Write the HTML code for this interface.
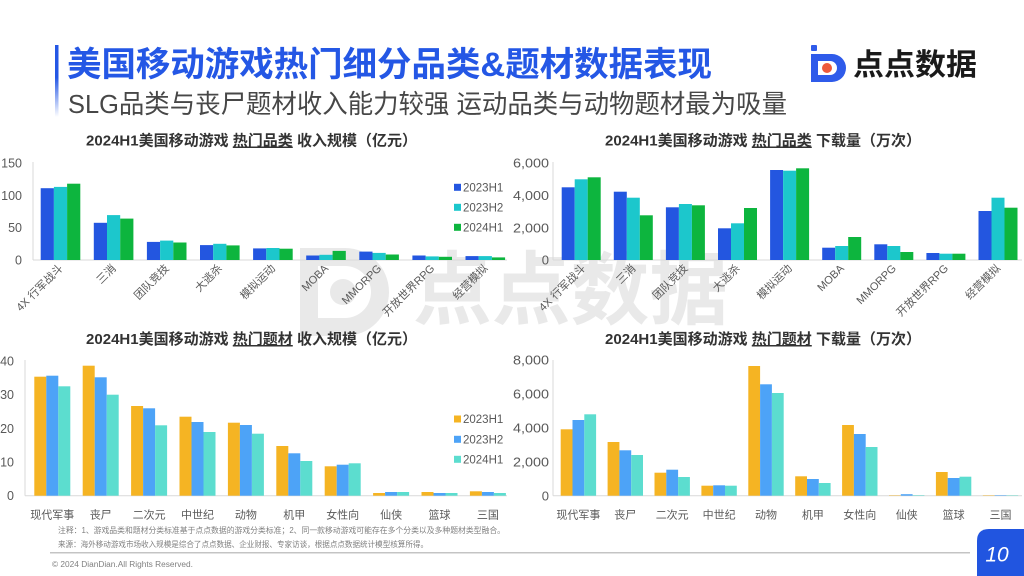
<!DOCTYPE html>
<html><head><meta charset="utf-8">
<style>
html,body{margin:0;padding:0;background:#fff;}
body{width:1024px;height:576px;overflow:hidden;}
svg{display:block;}
text{font-family:"Liberation Sans","Noto Sans CJK SC",sans-serif;}
.tk{font-size:12.5px;fill:#595959;text-anchor:end;}
.tc{font-size:13px;fill:#595959;text-anchor:end;}
.xl{font-size:11px;fill:#595959;}
.xr{font-size:11px;fill:#595959;text-anchor:end;}
.lg{font-size:11.5px;fill:#595959;}
.ti{font-size:15px;font-weight:bold;fill:#333;text-anchor:middle;}
.ax{stroke:#d9d9d9;stroke-width:1;}
.a1{fill:#2356E0}.a2{fill:#1CC7CC}.a3{fill:#0DB53E}
.c1{fill:#F5B423}.c2{fill:#4DA3F7}.c3{fill:#5CDDCF}
.ft{font-size:8px;fill:#808080;}
</style></head>
<body>
<svg width="1024" height="576" viewBox="0 0 1024 576" xmlns="http://www.w3.org/2000/svg">
<defs>
<linearGradient id="vb" x1="0" y1="0" x2="0" y2="1">
<stop offset="0" stop-color="#2457E5"/>
<stop offset="0.45" stop-color="#2457E5"/>
<stop offset="1" stop-color="#2457E5" stop-opacity="0"/>
</linearGradient>
</defs>

<!-- watermark -->
<g fill="#e9e9e9">
<path fill-rule="evenodd" d="M300,248 H345 A44,44 0 0 1 345,336 H300 Z M318,266 H345 A26,26 0 0 1 345,318 H318 Z"/>
<circle cx="343" cy="292" r="13"/>
<text x="413" y="318" font-size="80" font-weight="bold" textLength="315" lengthAdjust="spacingAndGlyphs" fill="#e9e9e9">点点数据</text>
</g>

<!-- header -->
<rect x="55" y="45" width="3.5" height="72" fill="url(#vb)"/>
<text x="67" y="76" font-size="34" font-weight="bold" fill="#2457E5" textLength="645" lengthAdjust="spacingAndGlyphs">美国移动游戏热门细分品类&amp;题材数据表现</text>
<text x="68" y="113" font-size="26" fill="#474747" textLength="719" lengthAdjust="spacingAndGlyphs">SLG品类与丧尸题材收入能力较强 运动品类与动物题材最为吸量</text>

<!-- logo -->
<rect x="811" y="45" width="6" height="6" rx="1" fill="#2F5BEA"/>
<path fill-rule="evenodd" fill="#2F5BEA" d="M811,54 H832 A14,14 0 0 1 832,82 H811 Z M818,61 H830 A7,7 0 0 1 830,75 H818 Z"/>
<circle cx="827" cy="68" r="5" fill="#EE5A3B"/>
<text x="853" y="75" font-size="30" font-weight="bold" fill="#1a1a1a" textLength="124" lengthAdjust="spacingAndGlyphs">点点数据</text>

<!-- titles -->
<text class="ti" x="251.5" y="145.5">2024H1美国移动游戏 <tspan style="text-decoration:underline">热门品类</tspan> 收入规模（亿元）</text>
<text class="ti" x="763" y="145.5">2024H1美国移动游戏 <tspan style="text-decoration:underline">热门品类</tspan> 下载量（万次）</text>
<text class="ti" x="251.5" y="344">2024H1美国移动游戏 <tspan style="text-decoration:underline">热门题材</tspan> 收入规模（亿元）</text>
<text class="ti" x="763" y="344">2024H1美国移动游戏 <tspan style="text-decoration:underline">热门题材</tspan> 下载量（万次）</text>

<!-- Chart A: top-left -->
<line class="ax" x1="33" y1="162" x2="33" y2="260"/>
<line class="ax" x1="33" y1="260" x2="507" y2="260"/>
<text class="tk" x="22" y="167.5">150</text>
<text class="tk" x="22" y="199.8">100</text>
<text class="tk" x="22" y="232.2">50</text>
<text class="tk" x="22" y="264.5">0</text>
<g>
<rect class="a1" x="40.7" y="188.2" width="13.2" height="71.8"/><rect class="a2" x="53.9" y="186.9" width="13.2" height="73.1"/><rect class="a3" x="67.1" y="183.7" width="13.2" height="76.3"/>
<rect class="a1" x="93.8" y="222.8" width="13.2" height="37.2"/><rect class="a2" x="107" y="215.1" width="13.2" height="44.9"/><rect class="a3" x="120.2" y="218.6" width="13.2" height="41.4"/>
<rect class="a1" x="146.9" y="241.9" width="13.2" height="18.1"/><rect class="a2" x="160.1" y="240.6" width="13.2" height="19.4"/><rect class="a3" x="173.3" y="242.5" width="13.2" height="17.5"/>
<rect class="a1" x="200" y="245.1" width="13.2" height="14.9"/><rect class="a2" x="213.2" y="243.8" width="13.2" height="16.2"/><rect class="a3" x="226.4" y="245.4" width="13.2" height="14.6"/>
<rect class="a1" x="253.1" y="248.4" width="13.2" height="11.6"/><rect class="a2" x="266.3" y="248" width="13.2" height="12"/><rect class="a3" x="279.5" y="248.7" width="13.2" height="11.3"/>
<rect class="a1" x="306.2" y="255.5" width="13.2" height="4.5"/><rect class="a2" x="319.4" y="254.8" width="13.2" height="5.2"/><rect class="a3" x="332.6" y="250.9" width="13.2" height="9.1"/>
<rect class="a1" x="359.3" y="251.6" width="13.2" height="8.4"/><rect class="a2" x="372.5" y="252.9" width="13.2" height="7.1"/><rect class="a3" x="385.7" y="254.5" width="13.2" height="5.5"/>
<rect class="a1" x="412.4" y="255.5" width="13.2" height="4.5"/><rect class="a2" x="425.6" y="256.4" width="13.2" height="3.6"/><rect class="a3" x="438.8" y="256.8" width="13.2" height="3.2"/>
<rect class="a1" x="465.5" y="256.1" width="13.2" height="3.9"/><rect class="a2" x="478.7" y="256.1" width="13.2" height="3.9"/><rect class="a3" x="491.9" y="257.4" width="13.2" height="2.6"/>
</g>
<text class="xr" x="63.5" y="269" transform="rotate(-45 63.5 269)">4X 行军战斗</text>
<text class="xr" x="116.6" y="269" transform="rotate(-45 116.6 269)">三消</text>
<text class="xr" x="169.7" y="269" transform="rotate(-45 169.7 269)">团队竞技</text>
<text class="xr" x="222.8" y="269" transform="rotate(-45 222.8 269)">大逃杀</text>
<text class="xr" x="275.9" y="269" transform="rotate(-45 275.9 269)">模拟运动</text>
<text class="xr" x="329" y="269" transform="rotate(-45 329 269)">MOBA</text>
<text class="xr" x="382.1" y="269" transform="rotate(-45 382.1 269)">MMORPG</text>
<text class="xr" x="435.2" y="269" transform="rotate(-45 435.2 269)">开放世界RPG</text>
<text class="xr" x="488.3" y="269" transform="rotate(-45 488.3 269)">经营模拟</text>
<rect class="a1" x="454" y="183.8" width="7" height="7"/><text class="lg" x="463" y="191.3">2023H1</text>
<rect class="a2" x="454" y="203.8" width="7" height="7"/><text class="lg" x="463" y="211.3">2023H2</text>
<rect class="a3" x="454" y="223.8" width="7" height="7"/><text class="lg" x="463" y="231.3">2024H1</text>

<!-- Chart B: top-right -->
<line class="ax" x1="553" y1="162" x2="553" y2="260"/>
<line class="ax" x1="553" y1="260" x2="1022" y2="260"/>
<text class="tc" x="549" y="167.6" textLength="36" lengthAdjust="spacingAndGlyphs">6,000</text>
<text class="tc" x="549" y="199.9" textLength="36" lengthAdjust="spacingAndGlyphs">4,000</text>
<text class="tc" x="549" y="232.3" textLength="36" lengthAdjust="spacingAndGlyphs">2,000</text>
<text class="tc" x="549" y="264.6">0</text>
<g>
<rect class="a1" x="561.7" y="187.3" width="13" height="72.7"/><rect class="a2" x="574.7" y="179.3" width="13" height="80.7"/><rect class="a3" x="587.7" y="177.3" width="13" height="82.7"/>
<rect class="a1" x="613.8" y="191.7" width="13" height="68.3"/><rect class="a2" x="626.8" y="197.7" width="13" height="62.3"/><rect class="a3" x="639.8" y="215.3" width="13" height="44.7"/>
<rect class="a1" x="665.9" y="207.3" width="13" height="52.7"/><rect class="a2" x="678.9" y="204" width="13" height="56"/><rect class="a3" x="691.9" y="205.3" width="13" height="54.7"/>
<rect class="a1" x="718" y="228.3" width="13" height="31.7"/><rect class="a2" x="731" y="223.3" width="13" height="36.7"/><rect class="a3" x="744" y="208" width="13" height="52"/>
<rect class="a1" x="770.1" y="170" width="13" height="90"/><rect class="a2" x="783.1" y="170.7" width="13" height="89.3"/><rect class="a3" x="796.1" y="168.3" width="13" height="91.7"/>
<rect class="a1" x="822.2" y="247.7" width="13" height="12.3"/><rect class="a2" x="835.2" y="246" width="13" height="14"/><rect class="a3" x="848.2" y="237" width="13" height="23"/>
<rect class="a1" x="874.3" y="244.3" width="13" height="15.7"/><rect class="a2" x="887.3" y="246" width="13" height="14"/><rect class="a3" x="900.3" y="252" width="13" height="8"/>
<rect class="a1" x="926.4" y="253" width="13" height="7"/><rect class="a2" x="939.4" y="253.7" width="13" height="6.3"/><rect class="a3" x="952.4" y="253.7" width="13" height="6.3"/>
<rect class="a1" x="978.5" y="211" width="13" height="49"/><rect class="a2" x="991.5" y="197.7" width="13" height="62.3"/><rect class="a3" x="1004.5" y="207.7" width="13" height="52.3"/>
</g>
<text class="xr" x="586.2" y="269" transform="rotate(-45 586.2 269)">4X 行军战斗</text>
<text class="xr" x="636.3" y="269" transform="rotate(-45 636.3 269)">三消</text>
<text class="xr" x="688.4" y="269" transform="rotate(-45 688.4 269)">团队竞技</text>
<text class="xr" x="740.5" y="269" transform="rotate(-45 740.5 269)">大逃杀</text>
<text class="xr" x="792.6" y="269" transform="rotate(-45 792.6 269)">模拟运动</text>
<text class="xr" x="844.7" y="269" transform="rotate(-45 844.7 269)">MOBA</text>
<text class="xr" x="896.8" y="269" transform="rotate(-45 896.8 269)">MMORPG</text>
<text class="xr" x="948.9" y="269" transform="rotate(-45 948.9 269)">开放世界RPG</text>
<text class="xr" x="1001" y="269" transform="rotate(-45 1001 269)">经营模拟</text>

<!-- Chart C: bottom-left -->
<line class="ax" x1="25" y1="360" x2="25" y2="495.7"/>
<line class="ax" x1="25" y1="495.7" x2="507" y2="495.7"/>
<text class="tk" x="14" y="365.5">40</text>
<text class="tk" x="14" y="399.2">30</text>
<text class="tk" x="14" y="432.9">20</text>
<text class="tk" x="14" y="466.5">10</text>
<text class="tk" x="14" y="500.2">0</text>
<g>
<rect class="c1" x="34.3" y="376.7" width="12" height="119"/><rect class="c2" x="46.3" y="375.7" width="12" height="120"/><rect class="c3" x="58.3" y="386.3" width="12" height="109.4"/>
<rect class="c1" x="82.7" y="365.7" width="12" height="130"/><rect class="c2" x="94.7" y="377.3" width="12" height="118.4"/><rect class="c3" x="106.7" y="394.7" width="12" height="101"/>
<rect class="c1" x="131.1" y="406" width="12" height="89.7"/><rect class="c2" x="143.1" y="408.3" width="12" height="87.4"/><rect class="c3" x="155.1" y="425.3" width="12" height="70.4"/>
<rect class="c1" x="179.5" y="416.7" width="12" height="79"/><rect class="c2" x="191.5" y="422" width="12" height="73.7"/><rect class="c3" x="203.5" y="432" width="12" height="63.7"/>
<rect class="c1" x="227.9" y="422.7" width="12" height="73"/><rect class="c2" x="239.9" y="425" width="12" height="70.7"/><rect class="c3" x="251.9" y="433.7" width="12" height="62"/>
<rect class="c1" x="276.3" y="446" width="12" height="49.7"/><rect class="c2" x="288.3" y="453.3" width="12" height="42.4"/><rect class="c3" x="300.3" y="461" width="12" height="34.7"/>
<rect class="c1" x="324.7" y="466.3" width="12" height="29.4"/><rect class="c2" x="336.7" y="464.7" width="12" height="31"/><rect class="c3" x="348.7" y="463.3" width="12" height="32.4"/>
<rect class="c1" x="373.1" y="493" width="12" height="2.7"/><rect class="c2" x="385.1" y="492" width="12" height="3.7"/><rect class="c3" x="397.1" y="492" width="12" height="3.7"/>
<rect class="c1" x="421.5" y="492" width="12" height="3.7"/><rect class="c2" x="433.5" y="493" width="12" height="2.7"/><rect class="c3" x="445.5" y="493" width="12" height="2.7"/>
<rect class="c1" x="469.9" y="491.3" width="12" height="4.4"/><rect class="c2" x="481.9" y="492" width="12" height="3.7"/><rect class="c3" x="493.9" y="493" width="12" height="2.7"/>
</g>
<g class="xl" text-anchor="middle">
<text x="52.3" y="518.5">现代军事</text>
<text x="100.7" y="518.5">丧尸</text>
<text x="149.1" y="518.5">二次元</text>
<text x="197.5" y="518.5">中世纪</text>
<text x="245.9" y="518.5">动物</text>
<text x="294.3" y="518.5">机甲</text>
<text x="342.7" y="518.5">女性向</text>
<text x="391.1" y="518.5">仙侠</text>
<text x="439.5" y="518.5">篮球</text>
<text x="487.9" y="518.5">三国</text>
</g>
<rect class="c1" x="454" y="415.5" width="7" height="7"/><text class="lg" x="463" y="423">2023H1</text>
<rect class="c2" x="454" y="435.8" width="7" height="7"/><text class="lg" x="463" y="443.3">2023H2</text>
<rect class="c3" x="454" y="455.8" width="7" height="7"/><text class="lg" x="463" y="463.3">2024H1</text>

<!-- Chart D: bottom-right -->
<line class="ax" x1="553" y1="360" x2="553" y2="495.7"/>
<line class="ax" x1="553" y1="495.7" x2="1022" y2="495.7"/>
<text class="tc" x="549" y="364.6" textLength="36" lengthAdjust="spacingAndGlyphs">8,000</text>
<text class="tc" x="549" y="398.5" textLength="36" lengthAdjust="spacingAndGlyphs">6,000</text>
<text class="tc" x="549" y="432.5" textLength="36" lengthAdjust="spacingAndGlyphs">4,000</text>
<text class="tc" x="549" y="466.4" textLength="36" lengthAdjust="spacingAndGlyphs">2,000</text>
<text class="tc" x="549" y="500.3">0</text>
<g>
<rect class="c1" x="560.7" y="429.3" width="11.8" height="66.4"/><rect class="c2" x="572.5" y="420" width="11.8" height="75.7"/><rect class="c3" x="584.3" y="414.3" width="11.8" height="81.4"/>
<rect class="c1" x="607.6" y="442" width="11.8" height="53.7"/><rect class="c2" x="619.4" y="450.3" width="11.8" height="45.4"/><rect class="c3" x="631.2" y="455" width="11.8" height="40.7"/>
<rect class="c1" x="654.5" y="472.7" width="11.8" height="23"/><rect class="c2" x="666.3" y="469.7" width="11.8" height="26"/><rect class="c3" x="678.1" y="477" width="11.8" height="18.7"/>
<rect class="c1" x="701.4" y="485.7" width="11.8" height="10"/><rect class="c2" x="713.2" y="485.3" width="11.8" height="10.4"/><rect class="c3" x="725" y="485.7" width="11.8" height="10"/>
<rect class="c1" x="748.3" y="366" width="11.8" height="129.7"/><rect class="c2" x="760.1" y="384.3" width="11.8" height="111.4"/><rect class="c3" x="771.9" y="393" width="11.8" height="102.7"/>
<rect class="c1" x="795.2" y="476.3" width="11.8" height="19.4"/><rect class="c2" x="807" y="479" width="11.8" height="16.7"/><rect class="c3" x="818.8" y="483" width="11.8" height="12.7"/>
<rect class="c1" x="842.1" y="425" width="11.8" height="70.7"/><rect class="c2" x="853.9" y="434" width="11.8" height="61.7"/><rect class="c3" x="865.7" y="447" width="11.8" height="48.7"/>
<rect class="c1" x="889" y="495.3" width="11.8" height="0.4"/><rect class="c2" x="900.8" y="494.2" width="11.8" height="1.5"/><rect class="c3" x="912.6" y="495.2" width="11.8" height="0.5"/>
<rect class="c1" x="935.9" y="472" width="11.8" height="23.7"/><rect class="c2" x="947.7" y="478" width="11.8" height="17.7"/><rect class="c3" x="959.5" y="476.7" width="11.8" height="19"/>
<rect class="c1" x="982.8" y="495.3" width="11.8" height="0.4"/><rect class="c2" x="994.6" y="495.2" width="11.8" height="0.5"/><rect class="c3" x="1006.4" y="495.3" width="11.8" height="0.4"/>
</g>
<g class="xl" text-anchor="middle">
<text x="578.4" y="518.5">现代军事</text>
<text x="625.3" y="518.5">丧尸</text>
<text x="672.2" y="518.5">二次元</text>
<text x="719.1" y="518.5">中世纪</text>
<text x="766" y="518.5">动物</text>
<text x="812.9" y="518.5">机甲</text>
<text x="859.8" y="518.5">女性向</text>
<text x="906.7" y="518.5">仙侠</text>
<text x="953.6" y="518.5">篮球</text>
<text x="1000.5" y="518.5">三国</text>
</g>

<!-- footer -->
<text class="ft" x="58" y="533" textLength="447" lengthAdjust="spacingAndGlyphs">注释：1、游戏品类和题材分类标准基于点点数据的游戏分类标准；2、同一款移动游戏可能存在多个分类以及多种题材类型融合。</text>
<text class="ft" x="58" y="547" textLength="370" lengthAdjust="spacingAndGlyphs">来源：海外移动游戏市场收入规模是综合了点点数据、企业财报、专家访谈，根据点点数据统计模型核算所得。</text>
<line x1="50" y1="552.7" x2="970" y2="552.7" stroke="#c4c4c4" stroke-width="1.5"/>
<text class="ft" x="52" y="567" textLength="141" lengthAdjust="spacingAndGlyphs" fill="#888">© 2024 DianDian.All Rights Reserved.</text>

<path d="M977,576 V541 Q977,529 989,529 H1024 V576 Z" fill="#2155E0"/>
<text x="997" y="561.5" font-size="21" font-style="italic" fill="#fff" text-anchor="middle">10</text>
</svg>
</body></html>
